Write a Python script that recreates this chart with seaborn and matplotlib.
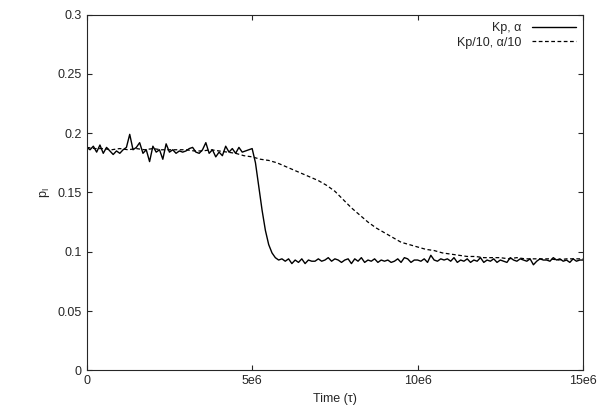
import matplotlib
matplotlib.use("Agg")
import matplotlib.pyplot as plt
import numpy as np
import pandas as pd
import seaborn as sns

# solid curve (Kp, alpha), step 1e5
solid_vals = [0.188,0.186,0.189,0.184,0.190,0.183,0.188,0.185,0.182,0.185,
              0.183,0.186,0.188,0.199,0.186,0.188,0.192,0.183,0.186,0.176,
              0.189,0.184,0.186,0.178,0.191,0.184,0.186,0.183,0.185,0.184,
              0.185,0.187,0.188,0.184,0.183,0.186,0.192,0.183,0.186,0.180,
              0.184,0.181,0.189,0.184,0.187,0.183,0.188,0.184,0.185,0.186,
              0.187,0.175,0.155,0.135,0.118,0.106,0.099,0.095,0.093,0.094,
              0.092,0.094,0.090,0.093,0.091,0.094,0.090,0.093,0.092,0.092,
              0.094,0.092,0.093,0.095,0.092,0.094,0.093,0.091,0.093,0.094,
              0.090,0.094,0.092,0.095,0.091,0.093,0.092,0.094,0.091,0.093,
              0.092,0.093,0.091,0.092,0.094,0.091,0.095,0.094,0.091,0.093,
              0.093,0.092,0.094,0.091,0.097,0.093,0.092,0.094,0.093,0.094,
              0.092,0.095,0.091,0.093,0.092,0.094,0.091,0.093,0.092,0.095,
              0.091,0.093,0.092,0.094,0.091,0.093,0.092,0.091,0.095,0.093,
              0.092,0.094,0.093,0.092,0.094,0.089,0.092,0.094,0.093,0.093,
              0.092,0.095,0.093,0.094,0.092,0.093,0.091,0.094,0.092,0.093,
              0.093]
solid_t = [i * 1e5 for i in range(len(solid_vals))]

# dashed curve (Kp/10, alpha/10), step 2.5e5
dashed_vals = [0.188,0.187,0.187,0.186,0.187,0.186,0.187,0.186,0.187,0.186,
               0.186,0.186,0.186,0.185,0.185,0.186,0.185,0.184,0.183,0.181,
               0.180,0.178,0.177,0.175,0.172,0.169,0.166,0.163,0.160,0.156,
               0.151,0.144,0.137,0.131,0.125,0.120,0.116,0.112,0.108,0.106,
               0.104,0.102,0.101,0.099,0.098,0.097,0.096,0.096,0.095,0.095,
               0.095,0.094,0.095,0.094,0.094,0.094,0.094,0.093,0.094,0.094,
               0.094]
dashed_t = [i * 2.5e5 for i in range(len(dashed_vals))]

sns.set_style("ticks")
plt.rcParams['font.family'] = ['Liberation Sans', 'DejaVu Sans']
fig, ax = plt.subplots(figsize=(5.98, 4.17), dpi=100)
sns.lineplot(x=solid_t, y=solid_vals, ax=ax, color='black', lw=1.0, label='Kp, α')
sns.lineplot(x=dashed_t, y=dashed_vals, ax=ax, color='black', lw=0.9,
             linestyle=(0, (3, 2)), label='Kp/10, α/10')
ax.set_xlim(0, 15e6)
ax.set_ylim(0, 0.3)
ax.set_xticks([0, 5e6, 10e6, 15e6])
ax.set_xticklabels(['0', '5e6', '10e6', '15e6'])
ax.set_yticks([0, 0.05, 0.1, 0.15, 0.2, 0.25, 0.3])
ax.set_yticklabels(['0', '0.05', '0.1', '0.15', '0.2', '0.25', '0.3'])
ax.tick_params(direction='in', top=True, right=True, labelsize=9)
ax.set_xlabel('Time (τ)', fontsize=9)
ax.set_ylabel('p$_\\mathregular{I}$', fontsize=9)
leg = ax.legend(loc='upper right', frameon=False, fontsize=9, markerfirst=False,
                handlelength=3.5, borderaxespad=0.2, labelspacing=0.2)
for t in leg.get_texts():
    t.set_ha('right')
plt.subplots_adjust(left=0.145, right=0.975, top=0.965, bottom=0.112)
plt.savefig('out.png')
